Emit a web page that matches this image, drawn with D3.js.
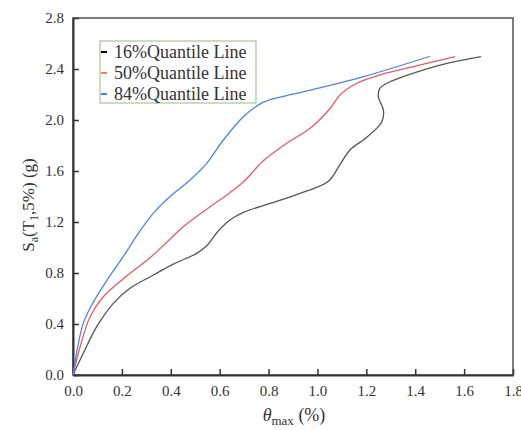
<!DOCTYPE html>
<html>
<head>
<meta charset="utf-8">
<script src="https://cdn.jsdelivr.net/npm/d3@7"></script>
<style>
  body { margin: 0; background: #fff; }
  svg text { font-family: "Liberation Serif", "Times New Roman", serif; fill: #333; }
</style>
</head>
<body>
<svg id="chart"></svg>
<script>
// quantile curves: [theta_max (%), Sa (g)]
var q16 = [[0,0],[0.042,0.17],[0.097,0.379],[0.165,0.562],[0.233,0.68],[0.329,0.784],[0.41,0.87],
  [0.506,0.954],[0.55,1.02],[0.59,1.12],[0.642,1.215],[0.697,1.275],[0.806,1.346],[0.929,1.425],
  [1.045,1.52],[1.092,1.65],[1.133,1.765],[1.202,1.865],[1.263,1.985],[1.27,2.078],[1.249,2.183],
  [1.256,2.25],[1.297,2.30],[1.35,2.34],[1.502,2.431],[1.669,2.497]];
var q50 = [[0,0],[0.029,0.22],[0.07,0.457],[0.124,0.614],[0.206,0.755],[0.315,0.92],[0.383,1.04],
  [0.451,1.163],[0.561,1.32],[0.642,1.43],[0.70,1.52],[0.779,1.68],[0.874,1.817],[0.97,1.935],
  [1.052,2.09],[1.092,2.196],[1.161,2.288],[1.256,2.353],[1.392,2.418],[1.563,2.497]];
var q84 = [[0,0],[0.042,0.405],[0.083,0.57],[0.138,0.74],[0.206,0.93],[0.274,1.13],[0.329,1.27],
  [0.397,1.40],[0.479,1.53],[0.547,1.66],[0.615,1.843],[0.697,2.026],[0.779,2.14],[0.87,2.19],
  [0.929,2.215],[1.188,2.34],[1.461,2.50]];

var seriesNames = ["16%Quantile Line", "50%Quantile Line", "84%Quantile Line"];
var seriesData = [q16, q50, q84];
var lineColors = ["#555555", "#e85c60", "#4a84e6"];
var legendColors = ["#000000", "#f5803e", "#4a80e0"];

var xTicks = [0, 0.2, 0.4, 0.6, 0.8, 1.0, 1.2, 1.4, 1.6, 1.8];
var yTicks = [0, 0.4, 0.8, 1.2, 1.6, 2.0, 2.4, 2.8];

var width = 521, height = 430;
var plotL = 73, plotR = 513, plotT = 18, plotB = 375;

var svg = d3.select("#chart").attr("width", width).attr("height", height);

var xScale = d3.scaleLinear().domain([0, 1.8]).range([plotL, plotR]);
var yScale = d3.scaleLinear().domain([0, 2.8]).range([plotB, plotT]);

// frame
svg.append("rect")
  .attr("x", plotL).attr("y", plotT)
  .attr("width", plotR - plotL).attr("height", plotB - plotT)
  .attr("fill", "none").attr("stroke", "#555").attr("stroke-width", 1.5);

// axes, ticks pointing inward
var xAxis = d3.axisBottom(xScale).tickValues(xTicks).tickFormat(d3.format(".1f"))
  .tickSizeInner(-6).tickSizeOuter(0).tickPadding(12);
var yAxis = d3.axisLeft(yScale).tickValues(yTicks).tickFormat(d3.format(".1f"))
  .tickSizeInner(-6).tickSizeOuter(0).tickPadding(9);

var gx = svg.append("g").attr("transform", "translate(0," + plotB + ")").call(xAxis);
var gy = svg.append("g").attr("transform", "translate(" + plotL + ",0)").call(yAxis);

[gx, gy].forEach(function(g){
  g.select(".domain").attr("stroke", "#333").attr("stroke-width", 2);
  g.selectAll(".tick line").attr("stroke", "#333").attr("stroke-width", 1.5);
  g.selectAll(".tick text").style("font-size", "15px").attr("fill", "#333");
});
gx.selectAll(".tick text").attr("dy", "0.6em");

// curves
var line = d3.line()
  .x(function(d){ return xScale(d[0]); })
  .y(function(d){ return yScale(d[1]); })
  .curve(d3.curveCatmullRom.alpha(0.5));

svg.append("g").selectAll("path")
  .data(seriesData)
  .enter()
  .append("path")
    .attr("d", line)
    .attr("fill", "none")
    .attr("stroke", function(d, i){ return lineColors[i]; })
    .attr("stroke-width", 1.3)
    .attr("stroke-linejoin", "round");

// legend
var legend = svg.append("g").attr("transform", "translate(100,41)");
legend.append("rect")
  .attr("width", 156).attr("height", 62)
  .attr("fill", "#fff").attr("stroke", "#8fbf7f").attr("stroke-width", 1);

var items = legend.selectAll("g.item")
  .data(seriesNames)
  .enter()
  .append("g")
    .attr("class", "item")
    .attr("transform", function(d, i){ return "translate(0," + (11 + i * 21) + ")"; });

items.append("line")
  .attr("x1", 1).attr("x2", 7)
  .attr("stroke", function(d, i){ return legendColors[i]; })
  .attr("stroke-width", 2);

items.append("text")
  .attr("x", 14).attr("dy", "0.35em")
  .style("font-size", "18px")
  .attr("fill", "#222")
  .text(function(d){ return d; });

// axis titles
var xt = svg.append("text")
  .attr("x", 294).attr("y", 421)
  .attr("text-anchor", "middle")
  .style("font-size", "18px");
xt.append("tspan").style("font-style", "italic").text("θ");
xt.append("tspan").attr("dy", 4).style("font-size", "13px").text("max");
xt.append("tspan").attr("dy", -4).text(" (%)");

var yt = svg.append("text")
  .attr("transform", "translate(34,205) rotate(-90)")
  .attr("text-anchor", "middle")
  .style("font-size", "17px");
yt.append("tspan").text("S");
yt.append("tspan").attr("dy", 4).style("font-size", "12px").text("a");
yt.append("tspan").attr("dy", -4).text("(T");
yt.append("tspan").attr("dy", 4).style("font-size", "12px").text("1");
yt.append("tspan").attr("dy", -4).text(",5%) (g)");
</script>
</body>
</html>
